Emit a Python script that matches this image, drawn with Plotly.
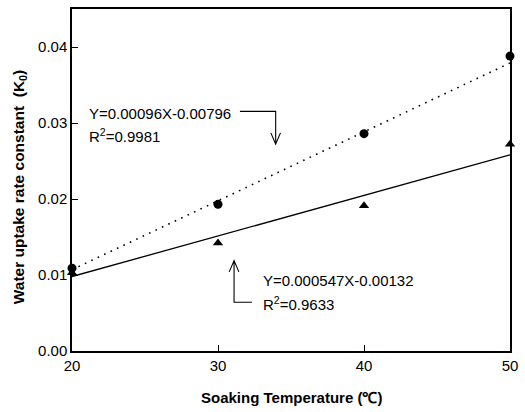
import plotly.graph_objects as go

# Data
temps = [20, 30, 40, 50]
k_circle = [0.0109, 0.0193, 0.0286, 0.0388]
k_triangle = [0.0103, 0.0142, 0.0191, 0.0272]

fit_x = [20, 50]
fit_circle = [0.0107, 0.0379]
fit_triangle = [0.0098, 0.0258]

x_ticks = [20, 30, 40, 50]
y_ticks = [0.00, 0.01, 0.02, 0.03, 0.04]

FONT = "Liberation Sans, Arial, Helvetica, sans-serif"

fig = go.Figure()
fig.add_trace(go.Scatter(x=fit_x, y=fit_circle, mode="lines",
                         line=dict(color="black", width=1.6, dash="1.6px,5.5px"),
                         showlegend=False, hoverinfo="skip"))
fig.add_trace(go.Scatter(x=fit_x, y=fit_triangle, mode="lines",
                         line=dict(color="black", width=1.3),
                         showlegend=False, hoverinfo="skip"))
fig.add_trace(go.Scatter(x=temps, y=k_circle, mode="markers",
                         marker=dict(symbol="circle", size=9, color="black"),
                         showlegend=False, cliponaxis=False))
fig.add_trace(go.Scatter(x=temps, y=k_triangle, mode="markers",
                         marker=dict(symbol="triangle-up", size=9, color="black"),
                         showlegend=False, cliponaxis=False))

ann_font = dict(family=FONT, size=15, color="black")
annotations = [
    dict(x=21.05, y=0.03127, text="Y=0.00096X-0.00796", xanchor="left", yanchor="middle"),
    dict(x=21.05, y=0.02840, text="R<sup>2</sup>=0.9981", xanchor="left", yanchor="middle"),
    dict(x=32.93, y=0.00929, text="Y=0.000547X-0.00132", xanchor="left", yanchor="middle"),
    dict(x=32.93, y=0.00620, text="R<sup>2</sup>=0.9633", xanchor="left", yanchor="middle"),
]
for a in annotations:
    a.update(xref="x", yref="y", showarrow=False, font=ann_font)

# axis titles
annotations.append(dict(x=0.5, y=-0.137, xref="paper", yref="paper",
                        text="<b>Soaking Temperature (℃)</b>", showarrow=False,
                        xanchor="center", yanchor="middle",
                        font=dict(family=FONT, size=15, color="black")))
annotations.append(dict(x=-0.12, y=0.48, xref="paper", yref="paper",
                        text="<b>Water uptake rate constant  (K<sub>0</sub>)</b>", showarrow=False,
                        textangle=-90, xanchor="center", yanchor="middle",
                        font=dict(family=FONT, size=15.5, color="black")))

shapes = [
    # callout 1: horizontal then down arrow
    dict(type="path", xref="x", yref="y",
         path="M 31.50,0.03153 L 33.95,0.03153 L 33.95,0.02721 "
              "M 33.62,0.02870 L 33.95,0.02721 L 34.28,0.02870",
         line=dict(color="black", width=1.1)),
    # callout 2: horizontal then up arrow
    dict(type="path", xref="x", yref="y",
         path="M 32.32,0.00641 L 31.10,0.00641 L 31.10,0.01190 "
              "M 30.77,0.01041 L 31.10,0.01190 L 31.43,0.01041",
         line=dict(color="black", width=1.1)),
]

fig.update_layout(
    width=525, height=412,
    margin=dict(l=72, r=9, t=7, b=61),
    paper_bgcolor="white", plot_bgcolor="white",
    font=dict(family=FONT, size=15, color="black"),
    annotations=annotations, shapes=shapes,
    showlegend=False,
)
fig.update_xaxes(range=[20, 50], tickvals=x_ticks, ticktext=[str(v) for v in x_ticks],
                 ticks="inside", ticklen=6, tickwidth=1.2, tickcolor="black",
                 showline=True, linecolor="black", linewidth=1.5, mirror=True,
                 showgrid=False, zeroline=False,
                 tickfont=dict(family=FONT, size=15, color="black"))
fig.update_yaxes(range=[0, 0.045], tickvals=y_ticks, ticktext=[f"{v:.2f}" for v in y_ticks],
                 ticks="inside", ticklen=6, tickwidth=1.2, tickcolor="black",
                 showline=True, linecolor="black", linewidth=1.5, mirror=True,
                 showgrid=False, zeroline=False,
                 tickfont=dict(family=FONT, size=15, color="black"))

fig.write_html("out.html", config={"displayModeBar": False},
               post_script="document.body.style.margin='0';document.body.style.overflow='hidden';")
